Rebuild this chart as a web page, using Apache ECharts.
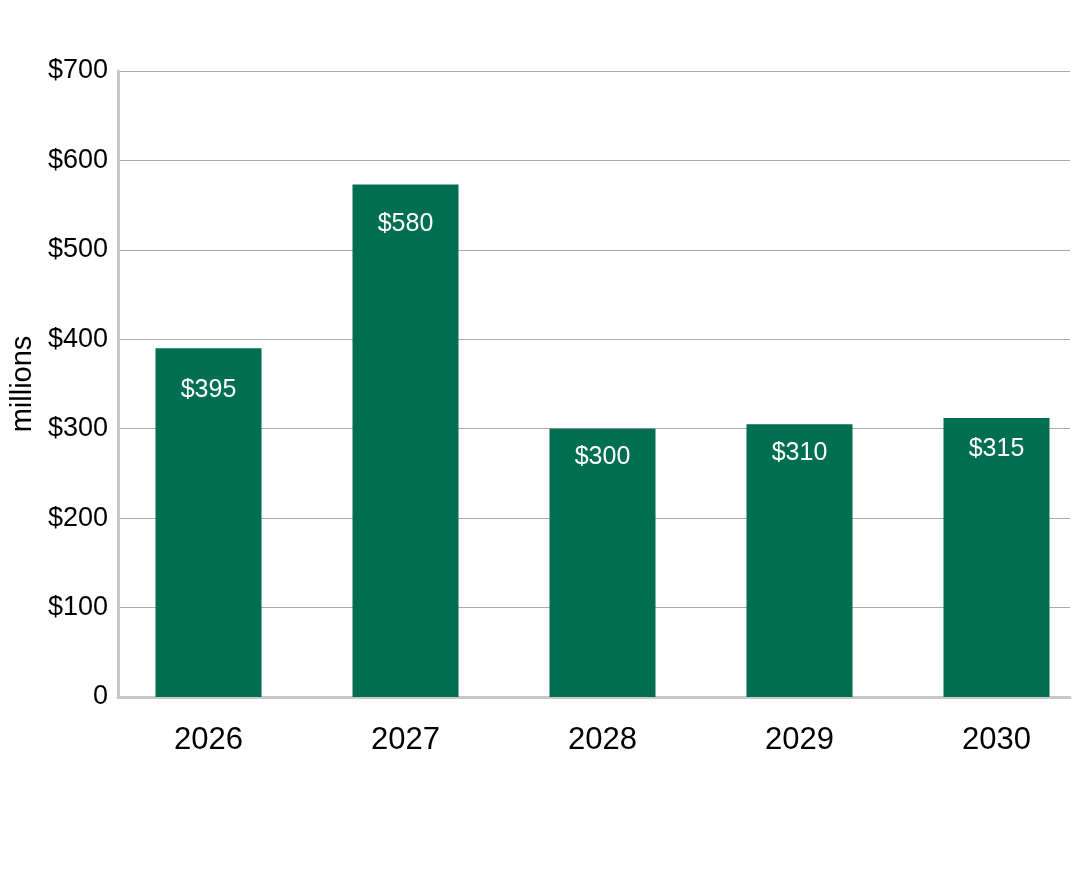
<!DOCTYPE html>
<html>
<head>
<meta charset="utf-8">
<script src="https://cdn.jsdelivr.net/npm/echarts@6/dist/echarts.min.js"></script>
<style>
html,body{margin:0;padding:0;background:#fff;}
#chart{width:1084px;height:875px;}
</style>
</head>
<body>
<div id="chart"></div>
<script>
const categories = ['2026', '2027', '2028', '2029', '2030'];
const barValues = [390, 573, 300, 305, 312];
const barLabels = ['$395', '$580', '$300', '$310', '$315'];
const yTickValues = [0, 100, 200, 300, 400, 500, 600, 700];
const yAxisName = 'millions';

// label placement inside each bar (style only)
const labelDistances = [29, 27, 16, 16, 19];

const chart = echarts.init(document.getElementById('chart'), null, {renderer: 'canvas'});
const font = 'Liberation Sans, Arial, sans-serif';
chart.setOption({
  animation: false,
  backgroundColor: '#ffffff',
  grid: [
    {left: 118, right: 14, top: 71, bottom: 178, outerBoundsMode: 'none', containLabel: false},
    {left: 110, width: 985, top: 71, bottom: 178, outerBoundsMode: 'none', containLabel: false}
  ],
  xAxis: [
    {
      gridIndex: 0, type: 'category', data: categories,
      axisLine: {show: true, lineStyle: {color: '#c8c8c8', width: 3}},
      axisTick: {show: false}, axisLabel: {show: false}, splitLine: {show: false}
    },
    {
      gridIndex: 1, type: 'category', data: categories,
      axisLine: {show: false}, axisTick: {show: false},
      axisLabel: {color: '#000', fontSize: 31, fontFamily: font, margin: 28}
    }
  ],
  yAxis: [
    {
      gridIndex: 0, type: 'value', min: 0, max: 700, interval: 100,
      name: yAxisName, nameLocation: 'middle', nameGap: 79, nameRotate: 90,
      nameTextStyle: {color: '#000', fontSize: 29, fontFamily: font},
      axisLine: {show: true, lineStyle: {color: '#c8c8c8', width: 3}},
      axisTick: {show: false},
      axisLabel: {
        color: '#000', fontSize: 27, fontFamily: font, margin: 10,
        formatter: v => yTickValues.includes(v) ? (v === 0 ? '0' : '$' + v) : ''
      },
      splitLine: {show: true, lineStyle: {color: '#aaaaaa', width: 1}}
    },
    {
      gridIndex: 1, type: 'value', min: 0, max: 700, interval: 100,
      show: false, splitLine: {show: false}
    }
  ],
  series: [{
    type: 'bar',
    xAxisIndex: 1, yAxisIndex: 1,
    data: barValues.map((v, i) => ({value: v, label: {distance: labelDistances[i]}})),
    barWidth: 106,
    itemStyle: {color: '#006f51'},
    label: {
      show: true, position: 'insideTop',
      color: '#fff', fontSize: 25, fontFamily: font,
      formatter: p => barLabels[p.dataIndex]
    }
  }]
});
</script>
</body>
</html>
